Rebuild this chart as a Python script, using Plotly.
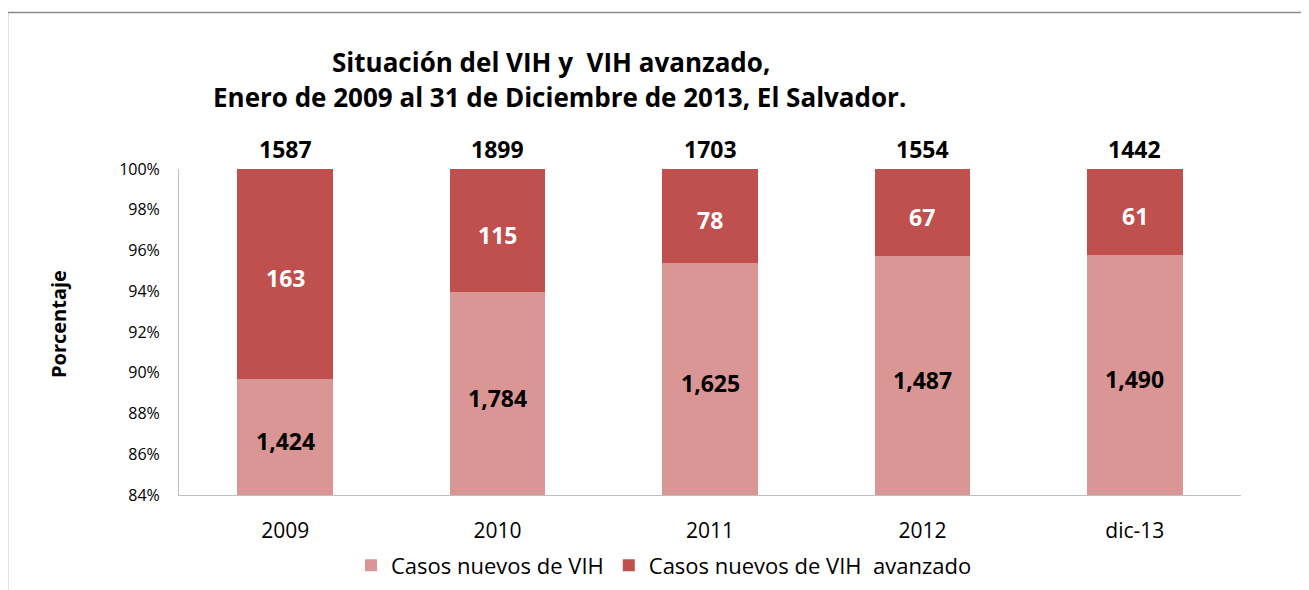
import plotly.graph_objects as go

# ---- data ----
categories = ["2009", "2010", "2011", "2012", "dic-13"]
casos_vih = [1424, 1784, 1625, 1487, 1490]          # label values, light segment
casos_avanzado = [163, 115, 78, 67, 61]             # label values, dark segment
totales = [1587, 1899, 1703, 1554, 1442]            # labels above bars
pct_vih = [89.71, 93.95, 95.41, 95.71, 95.76]       # % share
pct_avanzado = [10.29, 6.05, 4.59, 4.29, 4.24]

LIGHT = "#D99694"
DARK = "#C0504D"
FONT = "Open Sans"
Y_MIN, Y_MAX = 84, 100

fig = go.Figure()
fig.add_trace(go.Bar(x=categories, y=pct_vih, name="Casos nuevos de VIH",
                     marker=dict(color=LIGHT, line=dict(width=0)), width=0.45))
fig.add_trace(go.Bar(x=categories, y=pct_avanzado, name="Casos nuevos de VIH  avanzado",
                     marker=dict(color=DARK, line=dict(width=0)), width=0.45))

annotations = []
lab_font = dict(family=FONT, size=23, weight="bold")
for i, (pv, nv, na, tot) in enumerate(zip(pct_vih, casos_vih, casos_avanzado, totales)):
    # light segment label, centred in its visible part
    annotations.append(dict(x=i, y=(Y_MIN + pv) / 2, xref="x", yref="y", text=f"{nv:,}",
                            showarrow=False, yanchor="middle", yshift=-4,
                            font=dict(lab_font, color="black")))
    # dark segment label
    annotations.append(dict(x=i, y=pv + (Y_MAX - pv) / 2, xref="x", yref="y", text=f"{na:,}",
                            showarrow=False, yanchor="middle", yshift=-4,
                            font=dict(lab_font, color="white")))
    # total above bar
    annotations.append(dict(x=i, y=Y_MAX, xref="x", yref="y", text=str(tot),
                            showarrow=False, yanchor="bottom", yshift=2,
                            font=dict(lab_font, color="black")))

# page body has an 8px margin: target positions are screenshot coords minus 8
OFF = 8
W, H = 1309, 590
L, R, T, B = 179 - OFF, 1241 - OFF, 169 - OFF, 497 - OFF
def px(x): return (x - OFF - L) / (R - L)
def py(y): return (B - (y - OFF)) / (B - T)

annotations.append(dict(x=px(551), y=py(61), xref="paper", yref="paper",
                        text="Situación del VIH y&nbsp; VIH avanzado,", showarrow=False,
                        xanchor="center", yanchor="middle",
                        font=dict(family=FONT, size=26, color="black", weight="bold")))
annotations.append(dict(x=px(559), y=py(97), xref="paper", yref="paper",
                        text="Enero de 2009 al 31 de Diciembre de 2013, El Salvador.", showarrow=False,
                        xanchor="center", yanchor="middle",
                        font=dict(family=FONT, size=26, color="black", weight="bold")))
annotations.append(dict(x=px(58), y=py(325), xref="paper", yref="paper",
                        text="Porcentaje", showarrow=False, textangle=-90,
                        xanchor="center", yanchor="middle",
                        font=dict(family=FONT, size=20, color="black", weight="bold")))

fig.update_layout(
    width=W, height=H, autosize=False,
    margin=dict(l=L, r=W - R, t=T, b=H - B, pad=0),
    barmode="stack",
    plot_bgcolor="white", paper_bgcolor="white",
    font=dict(family=FONT, color="black"),
    showlegend=True,
    legend=dict(orientation="h", x=px(664), y=py(568), xanchor="center", yanchor="middle",
                font=dict(family=FONT, size=22, color="black"), traceorder="normal"),
    annotations=annotations,
    shapes=[dict(type="rect", xref="paper", yref="paper",
                 x0=px(7.5), x1=px(1330), y0=py(11.5), y1=py(620),
                 line=dict(color="#8c8c8c", width=1.5), fillcolor="rgba(0,0,0,0)", layer="below")],
)
fig.update_yaxes(range=[Y_MIN, Y_MAX], dtick=2, ticksuffix="%", showgrid=False, zeroline=False,
                 showline=True, linecolor="#bfbfbf", linewidth=1, ticks="", ticklabelstandoff=15,
                 tickfont=dict(family=FONT, size=16, color="black"))
fig.update_xaxes(type="category", range=[-0.5, len(categories) - 0.5], showgrid=False,
                 showline=True, linecolor="#bfbfbf", linewidth=1, ticklabelstandoff=17,
                 ticks="", tickfont=dict(family=FONT, size=21, color="black"))

fig.write_html("out.html")
